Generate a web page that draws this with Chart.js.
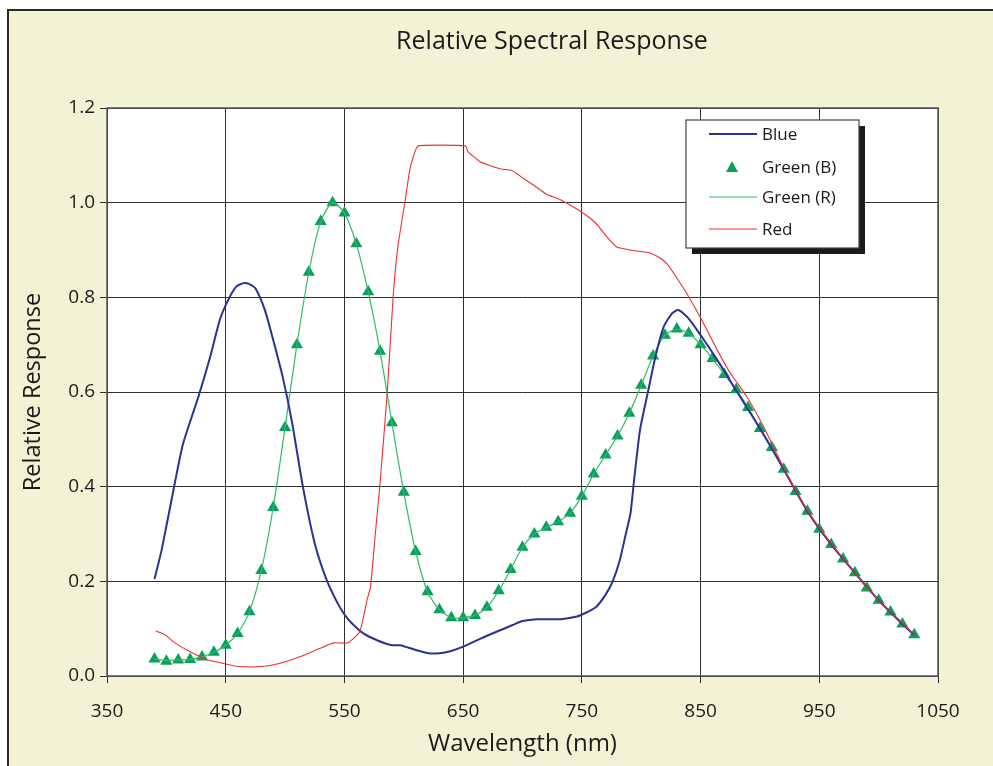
<!DOCTYPE html>
<html>
<head>
<meta charset="utf-8">
<title>Relative Spectral Response</title>
<script src="https://cdn.jsdelivr.net/npm/chart.js@4.4.1/dist/chart.umd.min.js"></script>
<style>
  html, body { margin: 0; padding: 0; overflow: hidden; background: #ffffff; }
  #frame {
    position: absolute; left: 7px; top: 9px; width: 1200px; height: 900px;
    background: #f4f2d4; border: 2px solid #2a2a2a;
  }
  #wrap { position: absolute; left: 0; top: 0; width: 1104px; height: 766px; }
</style>
</head>
<body>
<div id="frame"></div>
<div id="wrap"><canvas id="spectral" width="1104" height="766"></canvas></div>
<script>
// Green (B) / Green (R): sampled every 10 nm from 390 to 1030
const greenNm = [
  390, 400, 410, 420, 430, 440, 450, 460, 470, 480,
  490, 500, 510, 520, 530, 540, 550, 560, 570, 580,
  590, 600, 610, 620, 630, 640, 650, 660, 670, 680,
  690, 700, 710, 720, 730, 740, 750, 760, 770, 780,
  790, 800, 810, 820, 830, 840, 850, 860, 870, 880,
  890, 900, 910, 920, 930, 940, 950, 960, 970, 980,
  990, 1000, 1010, 1020, 1030
];
const greenB = [
  0.036, 0.031, 0.034, 0.035, 0.040, 0.050, 0.065, 0.090, 0.136, 0.223,
  0.356, 0.525, 0.700, 0.853, 0.960, 1.000, 0.978, 0.913, 0.812, 0.686,
  0.535, 0.388, 0.263, 0.178, 0.140, 0.123, 0.123, 0.128, 0.145, 0.180,
  0.225, 0.272, 0.300, 0.314, 0.326, 0.344, 0.380, 0.427, 0.467, 0.507,
  0.555, 0.614, 0.676, 0.720, 0.733, 0.724, 0.700, 0.671, 0.637, 0.605,
  0.567, 0.523, 0.483, 0.437, 0.390, 0.348, 0.310, 0.278, 0.247, 0.218,
  0.186, 0.160, 0.135, 0.110, 0.087
];
const greenR = [
  0.036, 0.033, 0.034, 0.035, 0.040, 0.050, 0.065, 0.090, 0.136, 0.223,
  0.356, 0.525, 0.700, 0.853, 0.960, 1.000, 0.978, 0.913, 0.812, 0.686,
  0.535, 0.388, 0.263, 0.178, 0.140, 0.123, 0.123, 0.128, 0.145, 0.180,
  0.225, 0.272, 0.300, 0.314, 0.326, 0.344, 0.380, 0.427, 0.467, 0.507,
  0.555, 0.614, 0.676, 0.720, 0.733, 0.724, 0.700, 0.671, 0.637, 0.605,
  0.567, 0.523, 0.483, 0.437, 0.390, 0.348, 0.310, 0.278, 0.247, 0.218,
  0.186, 0.160, 0.135, 0.110, 0.087
];

// Blue curve, read at uneven wavelengths
const blueNm = [
  390, 396, 406, 414, 427, 437, 445, 452, 459, 465,
  470, 475, 483, 490, 498, 506, 515, 525, 535, 544,
  550, 556, 566, 578, 590, 597, 610, 621, 630, 640,
  650, 670, 692, 700, 712, 732, 745, 752, 762, 770,
  776, 782, 787, 791, 794, 799, 806, 812, 819, 826,
  831, 836, 841, 852, 866, 880, 900, 920, 940, 960,
  980, 1000, 1020, 1030
];
const blueVal = [
  0.205, 0.266, 0.393, 0.490, 0.590, 0.675, 0.752, 0.794, 0.823, 0.830,
  0.828, 0.819, 0.773, 0.710, 0.632, 0.534, 0.400, 0.280, 0.203, 0.155,
  0.130, 0.112, 0.090, 0.075, 0.065, 0.065, 0.055, 0.048, 0.048, 0.053,
  0.062, 0.085, 0.108, 0.116, 0.120, 0.120, 0.125, 0.132, 0.146, 0.172,
  0.200, 0.245, 0.300, 0.344, 0.414, 0.520, 0.604, 0.675, 0.738, 0.766,
  0.773, 0.765, 0.752, 0.713, 0.660, 0.603, 0.523, 0.437, 0.348, 0.278,
  0.218, 0.160, 0.110, 0.087
];

// Red curve
const redNm = [
  391, 399, 406, 420, 434, 451, 462, 480, 496, 513,
  529, 541, 553, 563, 569, 572, 576, 580, 586, 591,
  595, 601, 605, 608, 612, 652, 654, 664, 673, 682,
  691, 701, 711, 720, 732, 751, 762, 771, 779, 793,
  807, 815, 822, 831, 841, 851, 864, 875, 889, 903,
  920, 940, 960, 980, 1000, 1020, 1030
];
const redVal = [
  0.095, 0.087, 0.072, 0.051, 0.035, 0.025, 0.020, 0.020, 0.027, 0.041,
  0.058, 0.070, 0.070, 0.094, 0.160, 0.189, 0.300, 0.407, 0.597, 0.800,
  0.907, 1.002, 1.069, 1.097, 1.120, 1.120, 1.108, 1.087, 1.078, 1.071,
  1.068, 1.051, 1.034, 1.018, 1.006, 0.978, 0.956, 0.928, 0.907, 0.899,
  0.894, 0.884, 0.870, 0.837, 0.797, 0.752, 0.689, 0.640, 0.590, 0.527,
  0.440, 0.350, 0.280, 0.218, 0.160, 0.112, 0.087
];

const xTicks = [350, 450, 550, 650, 750, 850, 950, 1050];
const yTicks = [0, 0.2, 0.4, 0.6, 0.8, 1.0, 1.2];

const FONT = '"Open Sans", "Noto Sans", sans-serif';
const COLORS = {
  blue: '#2b3195',
  greenB: '#0b9f5e',
  greenR: '#2fbb69',
  red: '#ee2f2f',
  grid: '#303030'
};

function toPoints(xs, ys) {
  return xs.map((x, i) => ({ x: x, y: ys[i] }));
}

// white plot area + frame round it
const plotBackground = {
  id: 'plotBackground',
  beforeDraw(chart) {
    const { ctx, chartArea: a } = chart;
    ctx.save();
    ctx.fillStyle = '#ffffff';
    ctx.fillRect(a.left, a.top, a.right - a.left, a.bottom - a.top);
    ctx.restore();
  },
  afterDraw(chart) {
    const { ctx, chartArea: a } = chart;
    ctx.save();
    ctx.strokeStyle = '#555555';
    ctx.lineWidth = 1.5;
    ctx.strokeRect(a.left, a.top, a.right - a.left, a.bottom - a.top);
    ctx.restore();
  }
};

// Excel-like boxed legend with a drop shadow
const boxLegend = {
  id: 'boxLegend',
  afterDraw(chart) {
    const ctx = chart.ctx;
    const x0 = 686, y0 = 120, w = 173, h = 128;
    ctx.save();
    ctx.fillStyle = '#1a1a1a';
    ctx.fillRect(x0 + 6, y0 + 6, w, h);
    ctx.fillStyle = '#ffffff';
    ctx.fillRect(x0, y0, w, h);
    ctx.strokeStyle = '#444444';
    ctx.lineWidth = 1.2;
    ctx.strokeRect(x0, y0, w, h);

    const rowsY = [134, 167, 197, 229];
    const textX = 762;
    ctx.font = '17px ' + FONT;
    ctx.textBaseline = 'middle';
    ctx.textAlign = 'left';
    chart.data.datasets.forEach((ds, i) => {
      const y = rowsY[i];
      if (ds.showLine === false) {
        ctx.fillStyle = ds.pointBackgroundColor;
        ctx.beginPath();
        ctx.moveTo(732, y - 6);
        ctx.lineTo(738, y + 5);
        ctx.lineTo(726, y + 5);
        ctx.closePath();
        ctx.fill();
      } else {
        ctx.strokeStyle = ds.borderColor;
        ctx.lineWidth = ds.borderWidth;
        ctx.beginPath();
        ctx.moveTo(709, y);
        ctx.lineTo(757, y);
        ctx.stroke();
      }
      ctx.fillStyle = '#1a1a1a';
      ctx.fillText(ds.label, textX, y + 1);
    });
    ctx.restore();
  }
};

new Chart(document.getElementById('spectral'), {
  type: 'scatter',
  data: {
    datasets: [
      {
        label: 'Blue',
        data: toPoints(blueNm, blueVal),
        showLine: true,
        borderColor: COLORS.blue,
        borderWidth: 2,
        pointRadius: 0,
        tension: 0.2,
        order: 2
      },
      {
        label: 'Green (B)',
        data: toPoints(greenNm, greenB),
        showLine: false,
        pointStyle: 'triangle',
        pointRadius: 7,
        pointBackgroundColor: COLORS.greenB,
        pointBorderColor: COLORS.greenB,
        pointBorderWidth: 0,
        order: 4
      },
      {
        label: 'Green (R)',
        data: toPoints(greenNm, greenR),
        showLine: true,
        borderColor: COLORS.greenR,
        borderWidth: 1.2,
        pointRadius: 0,
        tension: 0.25,
        order: 3
      },
      {
        label: 'Red',
        data: toPoints(redNm, redVal),
        showLine: true,
        borderColor: COLORS.red,
        borderWidth: 1.1,
        pointRadius: 0,
        tension: 0.15,
        order: 1
      }
    ]
  },
  options: {
    responsive: false,
    animation: false,
    layout: { padding: 0 },
    plugins: {
      legend: { display: false },
      tooltip: { enabled: false },
      title: {
        display: true,
        text: 'Relative Spectral Response',
        color: '#1a1a1a',
        font: { family: FONT, size: 25, weight: 'normal' },
        padding: { top: 27, bottom: 51 }
      }
    },
    scales: {
      x: {
        type: 'linear',
        min: 350,
        max: 1050,
        afterBuildTicks(scale) {
          scale.ticks = xTicks.map(v => ({ value: v }));
        },
        afterFit(scale) { scale.height = 90; },
        grid: { color: COLORS.grid, lineWidth: 1, tickLength: 7, drawTicks: true },
        border: { display: false },
        ticks: {
          color: '#1a1a1a',
          padding: 17,
          maxRotation: 0,
          font: { family: FONT, size: 19 },
          callback: v => String(v)
        },
        title: {
          display: true,
          text: 'Wavelength (nm)',
          color: '#1a1a1a',
          font: { family: FONT, size: 24 },
          padding: { top: 4, bottom: 7 }
        }
      },
      y: {
        min: 0,
        max: 1.2,
        afterBuildTicks(scale) {
          scale.ticks = yTicks.map(v => ({ value: v }));
        },
        afterFit(scale) { scale.width = 107; },
        grid: { color: COLORS.grid, lineWidth: 1, tickLength: 7, drawTicks: true },
        border: { display: false },
        ticks: {
          color: '#1a1a1a',
          padding: 5,
          font: { family: FONT, size: 19 },
          callback: v => v.toFixed(1)
        },
        title: {
          display: true,
          text: 'Relative Response',
          color: '#1a1a1a',
          font: { family: FONT, size: 23.5 },
          padding: { top: 19, bottom: 0 }
        }
      },
      // empty right-hand axis: only reserves space so the title centres like the original
      yRight: {
        position: 'right',
        min: 0,
        max: 1.2,
        afterFit(scale) { scale.width = 166; },
        grid: { display: false, drawTicks: false },
        border: { display: false },
        ticks: { display: false }
      }
    }
  },
  plugins: [plotBackground, boxLegend]
});
</script>
</body>
</html>
